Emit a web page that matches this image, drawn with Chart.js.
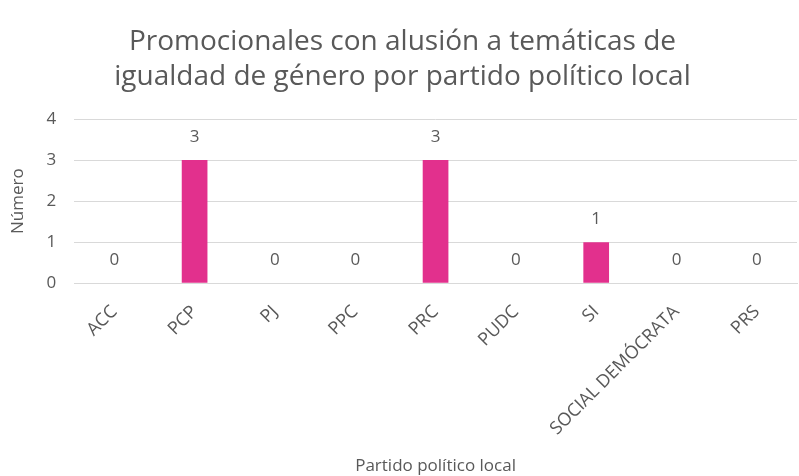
<!DOCTYPE html>
<html>
<head>
<meta charset="utf-8">
<script src="https://cdn.jsdelivr.net/npm/chart.js@4"></script>
<style>
  html, body { margin: 0; padding: 0; background: #fff; }
  #wrap { width: 799px; height: 476px; }
</style>
</head>
<body>
<div id="wrap"><canvas id="chart"></canvas></div>
<script>
const partidos = ['ACC', 'PCP', 'PJ', 'PPC', 'PRC', 'PUDC', 'SI', 'SOCIAL DEMÓCRATA', 'PRS'];
const promocionales = [0, 3, 0, 0, 3, 0, 1, 0, 0];
const yTicks = [0, 1, 2, 3, 4];

const gris = '#595959';
const fuente = "'Open Sans', 'Noto Sans', sans-serif";

// etiquetas de valor encima de cada barra
const valueLabels = {
  id: 'valueLabels',
  afterDatasetsDraw(chart) {
    const ctx = chart.ctx;
    const meta = chart.getDatasetMeta(0);
    ctx.save();
    ctx.font = `17px ${fuente}`;
    ctx.fillStyle = gris;
    ctx.textAlign = 'center';
    ctx.textBaseline = 'middle';
    meta.data.forEach((bar, i) => {
      ctx.fillText(String(promocionales[i]), bar.x, bar.y - 23);
    });
    ctx.restore();
  }
};

new Chart(document.getElementById('chart'), {
  type: 'bar',
  data: {
    labels: partidos,
    datasets: [{
      label: 'Número',
      data: promocionales,
      backgroundColor: '#E2308D',
      categoryPercentage: 1,
      barPercentage: 0.32
    }]
  },
  options: {
    responsive: true,
    maintainAspectRatio: false,
    animation: false,
    layout: { padding: { left: 8, right: 2, top: 8, bottom: 0 } },
    plugins: {
      legend: { display: false },
      tooltip: { enabled: false },
      title: {
        display: true,
        text: ['Promocionales con alusión a temáticas de', 'igualdad de género por partido político local'],
        color: gris,
        font: { family: fuente, size: 28, weight: 'normal', lineHeight: 1.25 },
        padding: { top: 17, bottom: 24 }
      }
    },
    scales: {
      y: {
        min: 0,
        max: 4,
        afterBuildTicks: (axis) => { axis.ticks = yTicks.map(v => ({ value: v })); },
        ticks: { color: gris, font: { family: fuente, size: 17 }, padding: 18 },
        grid: { color: '#d9d9d9', drawTicks: false },
        border: { display: false },
        title: {
          display: true,
          text: 'Número',
          color: gris,
          font: { family: fuente, size: 17 },
          padding: { top: 0, bottom: 0 }
        }
      },
      x: {
        ticks: {
          color: gris,
          font: { family: fuente, size: 18 },
          minRotation: 45,
          maxRotation: 45,
          padding: 10
        },
        grid: { display: false },
        border: { color: '#d9d9d9' },
        title: {
          display: true,
          text: 'Partido político local',
          color: gris,
          font: { family: fuente, size: 17 },
          padding: { top: 6, bottom: 0 }
        }
      }
    }
  },
  plugins: [valueLabels]
});
</script>
</body>
</html>
